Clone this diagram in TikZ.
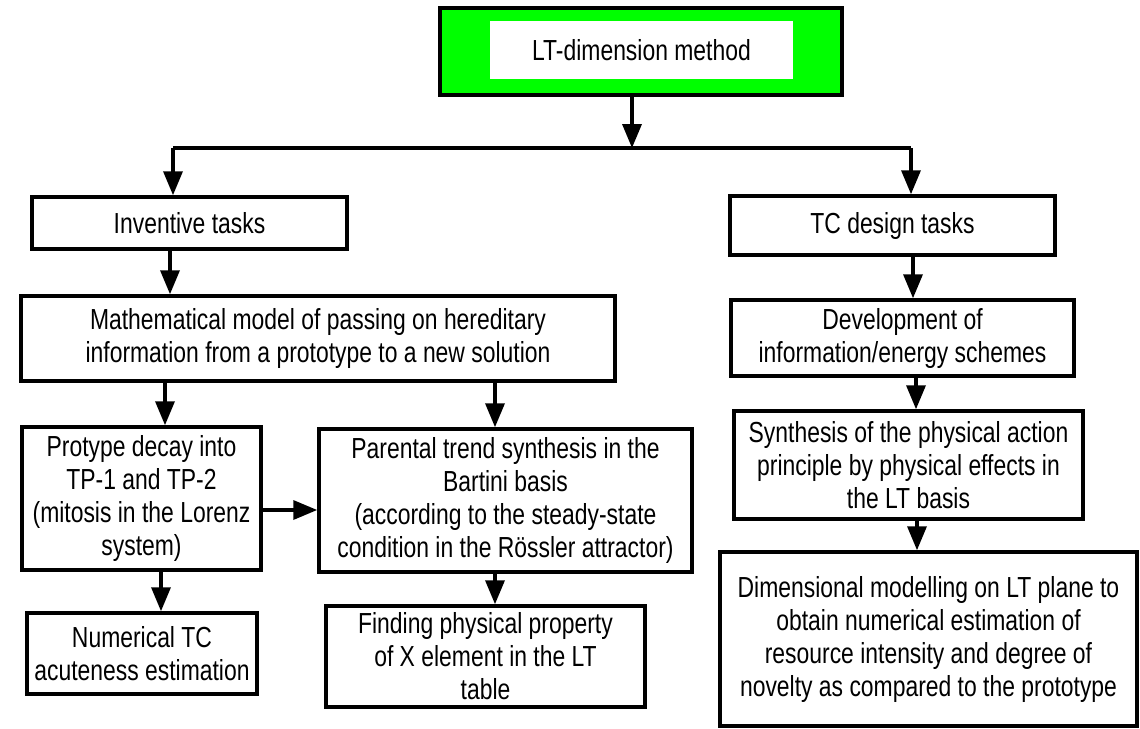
\documentclass[tikz,border=0pt]{standalone}
\usepackage{fontspec}
\setmainfont{Liberation Sans}[FakeStretch=0.79]
\usetikzlibrary{arrows.meta}
\definecolor{brightgreen}{RGB}{0,255,0}
\begin{document}
\begin{tikzpicture}[x=1pt,y=-1pt,
  every node/.style={font=\fontsize{29}{33}\selectfont, align=center, inner sep=0pt},
  box/.style={draw=black, line width=3.5pt, fill=white, minimum width=#1},
  tip/.style={-{Triangle[length=24pt,width=19pt]}, line width=3.5pt},
  link/.style={line width=3.5pt}]
\useasboundingbox (0,0) rectangle (1140,728);

% header
\node[box=402pt, fill=brightgreen, minimum height=87pt] (top) at (641,51.5) {};
\node[fill=white, minimum width=303pt, minimum height=58pt] (topin) at (641.5,50) {LT-dimension method};

% first level
\node[box=315pt, minimum height=52pt] (inv) at (189.5,223) {Inventive tasks};
\node[box=325pt, minimum height=59pt] (tc) at (892.5,225.5) {TC design tasks};

% left branch
\node[box=594pt, minimum height=85pt] (math) at (318,338.5)
  {Mathematical model of passing on hereditary\\information from a prototype to a new solution};
\node[box=239pt, minimum height=143pt] (proto) at (141.5,498.5)
  {Protype decay into\\TP-1 and TP-2\\(mitosis in the Lorenz\\system)};
\node[box=373pt, minimum height=143pt] (par) at (505.5,500.5)
  {Parental trend synthesis in the\\Bartini basis\\(according to the steady-state\\condition in the Rössler attractor)};
\node[box=230pt, minimum height=81pt] (num) at (142,653.5)
  {Numerical TC\\acuteness estimation};
\node[box=319pt, minimum height=101pt] (find) at (485.5,656.5)
  {Finding physical property\\of X element in the LT\\table};

% right branch
\node[box=343pt, minimum height=76pt] (dev) at (902.5,338)
  {Development of\\information/energy schemes};
\node[box=349pt, minimum height=108pt] (syn) at (908.5,465)
  {Synthesis of the physical action\\principle by physical effects in\\the LT basis};
\node[box=417pt, minimum height=174pt] (dim) at (928.5,639)
  {Dimensional modelling on LT plane to\\obtain numerical estimation of\\resource intensity and degree of\\novelty as compared to the prototype};

% split below the header
\coordinate (j) at (632,148);
\coordinate (jl) at (173,148);
\coordinate (jr) at (911,148);
\draw[tip] (top.south -| j) -- (j);
\draw[link] (jl) -- (jr);
\draw[tip] (jl) -- (inv.north -| jl);
\draw[tip] (jr) -- (tc.north -| jr);

% left branch connectors
\draw[tip] (inv.south -| 170,0) -- (math.north -| 170,0);
\draw[tip] (math.south -| 165,0) -- (proto.north -| 165,0);
\draw[tip] (math.south -| 495,0) -- (par.north -| 495,0);
\draw[tip] (proto.east |- 0,510) -- (par.west |- 0,510);
\draw[tip] (proto.south -| 161,0) -- (num.north -| 161,0);
\draw[tip] (par.south -| 495,0) -- (find.north -| 495,0);

% right branch connectors
\draw[tip] (tc.south -| 913,0) -- (dev.north -| 913,0);
\draw[tip] (dev.south -| 916,0) -- (syn.north -| 916,0);
\draw[tip] (syn.south -| 917,0) -- (dim.north -| 917,0);
\end{tikzpicture}
\end{document}
